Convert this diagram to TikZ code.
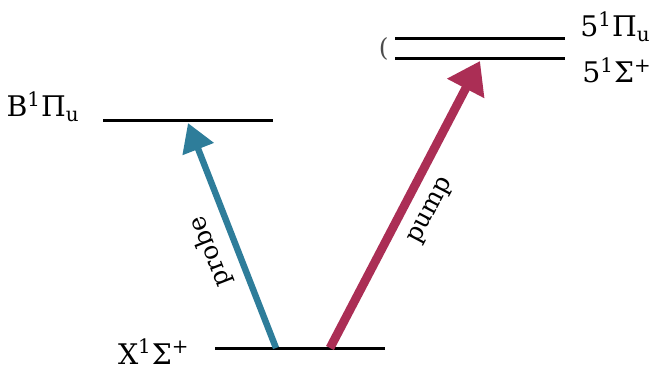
\documentclass[tikz,border=0pt]{standalone}
\usepackage{fontspec}
\setmainfont{DejaVu Serif}
\usetikzlibrary{arrows.meta, positioning}

\definecolor{probecol}{HTML}{2E7D9A}
\definecolor{pumpcol}{HTML}{AB2E55}

\begin{document}
\begin{tikzpicture}[x=0.5pt, y=-0.5pt]
    % Define styles
    \tikzstyle{level} = [line width=1.5pt, black]
    \tikzstyle{state} = [inner sep=0pt, font=\fontsize{14.2}{17}\selectfont]
    \tikzstyle{beam} = [line width=3.2pt, -{Triangle[length=14pt, width=16pt]}]
    \tikzstyle{beamlabel} = [font=\fontsize{12.5}{15}\selectfont, sloped, allow upside down]
    \useasboundingbox (0,0) rectangle (651,367);

    % Levels
    \coordinate (xl) at (215,348);  \coordinate (xr) at (385,348);
    \coordinate (bl) at (103,121);  \coordinate (br) at (273,121);
    \coordinate (pil) at (395,39);  \coordinate (pir) at (565,39);
    \coordinate (sil) at (395,59);  \coordinate (sir) at (565,59);
    \draw[level] (xl) -- (xr);
    \draw[level] (bl) -- (br);
    \draw[level] (pil) -- (pir);
    \draw[level] (sil) -- (sir);

    % Nodes
    \node[state, anchor=base east] (xlab) at (190,364) {X\textsuperscript{1}Σ\textsuperscript{+}};
    \node[state, anchor=base east] (blab) at (80,117) {B\textsuperscript{1}Π\textsubscript{u}};
    \node[state, anchor=base west] (pilab) at (580,37) {5\textsuperscript{1}Π\textsubscript{u}};
    \node[state, anchor=base west] (silab) at (582,83) {5\textsuperscript{1}Σ\textsuperscript{+}};
    \node[state, anchor=east, text=black!70, font=\fontsize{12.5}{15}\selectfont] (brace) at (389,49) {(};

    % Transitions
    \coordinate (probefrom) at (276,348);
    \coordinate (probeto) at (188,123);
    \coordinate (pumpfrom) at (330,348);
    \coordinate (pumpto) at (480,61);
    \draw[beam, probecol] (probefrom) -- (probeto)
        node[beamlabel, pos=0.47, above=2pt, text=black] {probe};
    \draw[beam, pumpcol, line width=4.4pt, -{Triangle[length=15.5pt, width=20pt]}] (pumpfrom) -- (pumpto)
        node[beamlabel, pos=0.52, below=3pt, text=black] {pump};
\end{tikzpicture}
\end{document}
